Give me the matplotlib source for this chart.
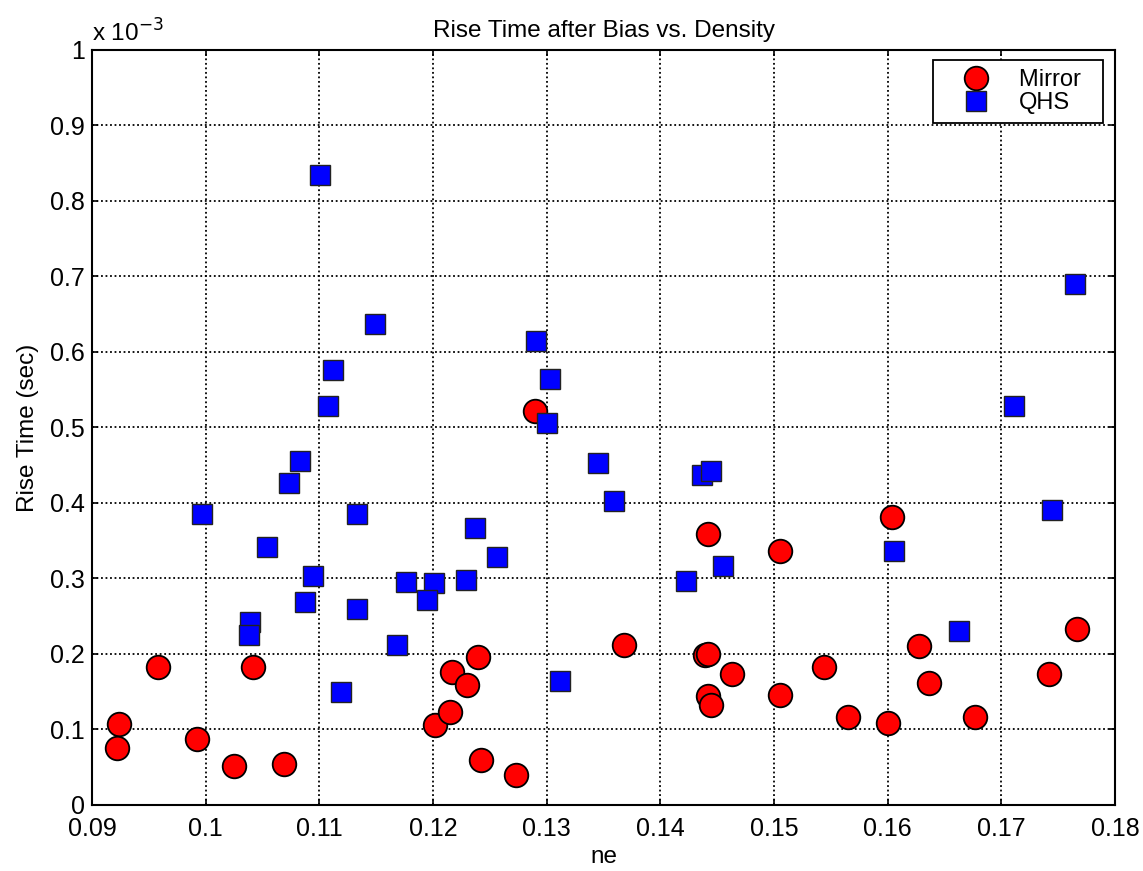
import numpy as np
import matplotlib
matplotlib.use("Agg")
import matplotlib.pyplot as plt
from matplotlib.ticker import FuncFormatter

plt.rcParams['font.family'] = ['Liberation Sans', 'DejaVu Sans']

# Mirror data (ne, rise time in units of 1e-3 s)
mirror_ne = [0.0924, 0.0922, 0.0958, 0.0992, 0.1025, 0.1042, 0.1069, 0.1202, 0.1215,
             0.1217, 0.1230, 0.1240, 0.1242, 0.1273, 0.1290, 0.1368, 0.1439, 0.1442,
             0.1442, 0.1442, 0.1445, 0.1463, 0.1505, 0.1505, 0.1544, 0.1565, 0.1600,
             0.1604, 0.1628, 0.1636, 0.1677, 0.1742, 0.1767]
mirror_rt = [0.107, 0.075, 0.183, 0.088, 0.051, 0.183, 0.054, 0.106, 0.123,
             0.176, 0.159, 0.196, 0.059, 0.040, 0.522, 0.212, 0.199, 0.200,
             0.359, 0.144, 0.133, 0.174, 0.337, 0.146, 0.183, 0.117, 0.109,
             0.381, 0.210, 0.162, 0.117, 0.173, 0.233]

# QHS data
qhs_ne = [0.1101, 0.1149, 0.1112, 0.1108, 0.1083, 0.1073, 0.0997, 0.1133, 0.1054,
          0.1094, 0.1176, 0.1201, 0.1229, 0.1087, 0.1195, 0.1133, 0.1039, 0.1038,
          0.1168, 0.1119, 0.1237, 0.1256, 0.1291, 0.1303, 0.1300, 0.1345, 0.1359,
          0.1437, 0.1445, 0.1455, 0.1423, 0.1312, 0.1606, 0.1663, 0.1711, 0.1745,
          0.1765]
qhs_rt = [0.834, 0.637, 0.576, 0.528, 0.455, 0.427, 0.385, 0.385, 0.342,
          0.303, 0.296, 0.294, 0.298, 0.269, 0.272, 0.259, 0.243, 0.225,
          0.212, 0.150, 0.367, 0.329, 0.614, 0.564, 0.506, 0.453, 0.402,
          0.437, 0.442, 0.317, 0.297, 0.164, 0.336, 0.230, 0.529, 0.391,
          0.690]

title = "Rise Time after Bias vs. Density"
xlabel = "ne"
ylabel = "Rise Time (sec)"
xticks = [0.09, 0.10, 0.11, 0.12, 0.13, 0.14, 0.15, 0.16, 0.17, 0.18]
yticks = [0, 0.1e-3, 0.2e-3, 0.3e-3, 0.4e-3, 0.5e-3, 0.6e-3, 0.7e-3, 0.8e-3, 0.9e-3, 1e-3]

fig = plt.figure(figsize=(11.43, 8.71), dpi=100)
ax = fig.add_axes([0.0805, 0.0758, 0.8950, 0.8668])

ax.plot(mirror_ne, np.array(mirror_rt) * 1e-3, linestyle='none', marker='o',
        markersize=17, markerfacecolor='#ff0000', markeredgecolor='black',
        markeredgewidth=1.3, label='Mirror', zorder=3)
ax.plot(qhs_ne, np.array(qhs_rt) * 1e-3, linestyle='none', marker='s',
        markersize=14.5, markerfacecolor='#0000ff', markeredgecolor='#222222',
        markeredgewidth=1.0, label='QHS', zorder=4)

ax.set_xlim(0.09, 0.18)
ax.set_ylim(0, 1e-3)
ax.set_xticks(xticks)
ax.set_yticks(yticks)
ax.xaxis.set_major_formatter(FuncFormatter(lambda v, p: ('%g' % round(v, 4))))
ax.yaxis.set_major_formatter(FuncFormatter(lambda v, p: ('%g' % round(v * 1e3, 4))))

ax.grid(True, color='black', linestyle=(0, (1, 1.5)), linewidth=1.3)
ax.set_axisbelow(True)
for s in ax.spines.values():
    s.set_linewidth(1.5)
ax.tick_params(direction='in', length=4, width=1.2, labelsize=18,
               top=True, right=True)
ax.tick_params(axis='x', pad=9)
ax.tick_params(axis='y', pad=5)

ax.set_title(title, fontsize=17.5, pad=9)
ax.set_xlabel(xlabel, fontsize=17.5, labelpad=3)
ax.set_ylabel(ylabel, fontsize=17.5, labelpad=8)

ax.text(0.0, 1.0106, r'x 10$^{-3}$', transform=ax.transAxes, fontsize=17.5,
        ha='left', va='baseline')

leg = ax.legend(loc='upper right', bbox_to_anchor=(0.988, 0.987), fontsize=17,
                frameon=True, fancybox=False, edgecolor='black', framealpha=1,
                borderpad=0.38, handletextpad=0.4, labelspacing=0.05,
                handlelength=2.85, borderaxespad=0)
leg.get_frame().set_linewidth(1.3)
leg.texts[0].set_text('Mirror  ')

fig.savefig('out.png', dpi=100)
